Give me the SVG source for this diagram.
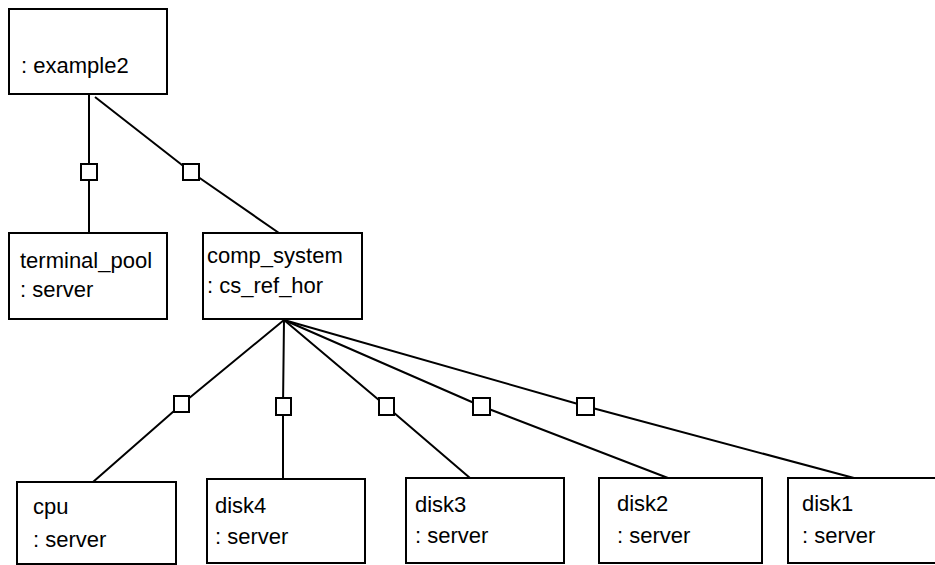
<svg xmlns="http://www.w3.org/2000/svg" width="935" height="565" viewBox="0 0 935 565">
  <style>
    .box { fill: #ffffff; stroke: #000000; stroke-width: 2; }
    .lbl { font-family: "Liberation Sans", Arial, sans-serif; font-size: 22px; fill: #000000; }
    .link { fill: none; stroke: #000000; stroke-width: 2; }
    .port { fill: #ffffff; stroke: #000000; stroke-width: 2; }
  </style>
  <rect width="935" height="565" fill="#ffffff"/>

  <!-- connectors with port squares -->
  <g id="connectors">
    <polyline class="link" points="89,94 89,233"/>
    <polyline class="link" points="95,97 191,172 279,233"/>
    <polyline class="link" points="284,320 182,404 93,482"/>
    <polyline class="link" points="284,320 283,406 283,479"/>
    <polyline class="link" points="284,320 386,406 470,478"/>
    <polyline class="link" points="284,320 481,406 668,478"/>
    <polyline class="link" points="284,320 585,406 854,478"/>
    <rect class="port" x="81" y="164" width="16" height="16"/>
    <rect class="port" x="183" y="164" width="16" height="16"/>
    <rect class="port" x="174" y="396" width="15" height="16"/>
    <rect class="port" x="276" y="398" width="15" height="17"/>
    <rect class="port" x="379" y="398" width="15" height="17"/>
    <rect class="port" x="473" y="398" width="17" height="17"/>
    <rect class="port" x="577" y="398" width="17" height="17"/>
  </g>

  <g id="example2">
    <rect class="box" x="9" y="9" width="158" height="85"/>
    <text class="lbl" x="21" y="73">: example2</text>
  </g>

  <g id="terminal_pool">
    <rect class="box" x="9" y="233" width="158" height="86"/>
    <text class="lbl" x="20" y="268">terminal_pool</text>
    <text class="lbl" x="20" y="297">: server</text>
  </g>

  <g id="comp_system">
    <rect class="box" x="203" y="233" width="159" height="86"/>
    <text class="lbl" x="207" y="263">comp_system</text>
    <text class="lbl" x="207" y="293">: cs_ref_hor</text>
  </g>

  <g id="cpu">
    <rect class="box" x="17" y="482" width="159" height="82"/>
    <text class="lbl" x="33" y="514">cpu</text>
    <text class="lbl" x="33" y="547">: server</text>
  </g>

  <g id="disk4">
    <rect class="box" x="207" y="479" width="158" height="84"/>
    <text class="lbl" x="215" y="513">disk4</text>
    <text class="lbl" x="215" y="544">: server</text>
  </g>

  <g id="disk3">
    <rect class="box" x="406" y="478" width="158" height="85"/>
    <text class="lbl" x="415" y="512">disk3</text>
    <text class="lbl" x="415" y="543">: server</text>
  </g>

  <g id="disk2">
    <rect class="box" x="599" y="478" width="163" height="85"/>
    <text class="lbl" x="617" y="511">disk2</text>
    <text class="lbl" x="617" y="543">: server</text>
  </g>

  <g id="disk1">
    <rect class="box" x="788" y="478" width="165" height="85"/>
    <text class="lbl" x="802" y="511">disk1</text>
    <text class="lbl" x="802" y="543">: server</text>
  </g>
</svg>
